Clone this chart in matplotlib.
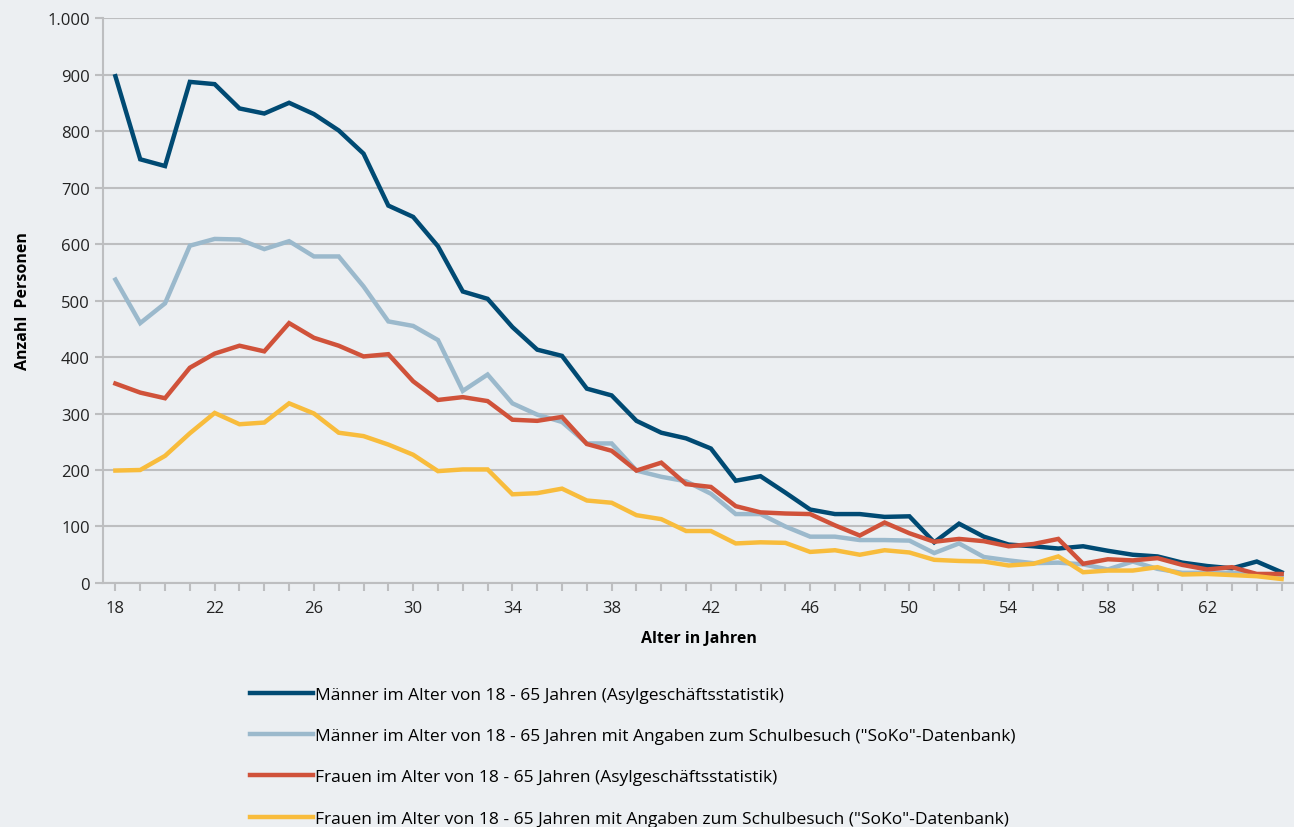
import matplotlib.pyplot as plt
import numpy as np

plt.rcParams['font.family'] = ['Open Sans', 'DejaVu Sans']

alter = np.arange(18, 66)

maenner_asyl = [897, 750, 738, 887, 883, 840, 831, 850, 830, 801, 760, 668, 648, 596, 516, 503,
                453, 413, 402, 344, 332, 287, 266, 256, 238, 181, 189, 160, 130, 122, 122, 117,
                118, 72, 105, 82, 68, 65, 61, 65, 57, 50, 47, 36, 30, 26, 38, 19]
maenner_soko = [537, 460, 495, 597, 609, 608, 591, 605, 578, 578, 525, 463, 455, 430, 340, 369,
                318, 298, 285, 247, 247, 199, 188, 180, 158, 122, 122, 100, 82, 82, 76, 76,
                75, 53, 70, 46, 40, 35, 36, 33, 24, 38, 25, 18, 18, 18, 15, 12]
frauen_asyl = [353, 337, 327, 381, 406, 420, 410, 460, 434, 420, 401, 405, 357, 324, 329, 322,
               289, 287, 294, 246, 234, 199, 213, 175, 170, 136, 125, 123, 122, 102, 84, 107,
               88, 73, 78, 74, 65, 69, 78, 34, 42, 40, 44, 32, 24, 28, 16, 16]
frauen_soko = [199, 200, 225, 265, 301, 281, 284, 318, 300, 266, 260, 245, 227, 198, 201, 201,
               157, 159, 167, 146, 142, 120, 113, 92, 92, 70, 72, 71, 55, 58, 50, 58,
               54, 41, 39, 38, 31, 34, 47, 19, 22, 22, 28, 15, 16, 14, 12, 7]

labels = [
    'Männer im Alter von 18 - 65 Jahren (Asylgeschäftsstatistik)',
    'Männer im Alter von 18 - 65 Jahren mit Angaben zum Schulbesuch ("SoKo"-Datenbank)',
    'Frauen im Alter von 18 - 65 Jahren (Asylgeschäftsstatistik)',
    'Frauen im Alter von 18 - 65 Jahren mit Angaben zum Schulbesuch ("SoKo"-Datenbank)',
]
colors = ['#004a73', '#9bb9cc', '#d0523a', '#f8bc3c']

bg = '#eceff2'
fig = plt.figure(figsize=(12.94, 8.28), dpi=100, facecolor=bg)
ax = fig.add_axes([0.0796, 0.2947, 0.9204, 0.6823], facecolor=bg)

for series, lab, col in zip([maenner_asyl, maenner_soko, frauen_asyl, frauen_soko], labels, colors):
    ax.plot(alter, series, color=col, lw=3.2, label=lab, solid_joinstyle='miter')

ax.set_xlim(17.5, 65.5)
ax.set_ylim(0, 1000)
ax.set_yticks(np.arange(0, 1001, 100))
ax.set_yticklabels([f'{v:,}'.replace(',', '.') for v in range(0, 1001, 100)])
ax.set_xticks(alter)
ax.set_xticklabels([str(a) if (a - 18) % 4 == 0 else '' for a in alter])
ax.grid(axis='y', color='#bdbec0', lw=1.5)
ax.set_axisbelow(True)

for s in ['top', 'right']:
    ax.spines[s].set_visible(False)
for s in ['left', 'bottom']:
    ax.spines[s].set_color('#bdbec0')
    ax.spines[s].set_linewidth(1.5)
ax.tick_params(axis='both', colors='#bdbec0', width=1.5, length=6, labelsize=12,
               labelcolor='#222222')
ax.tick_params(axis='x', pad=6)

ax.set_xlabel('Alter in Jahren', fontsize=11.5, fontweight='bold', labelpad=10)
ax.set_ylabel('Anzahl  Personen', fontsize=11.5, fontweight='bold', labelpad=12)

fig.legend(loc='upper left', bbox_to_anchor=(0.188, 0.178), frameon=False,
           fontsize=12.5, handlelength=3.6, handletextpad=0.15, labelspacing=1.45,
           borderaxespad=0)

fig.savefig('out.png', dpi=100, facecolor=bg)
